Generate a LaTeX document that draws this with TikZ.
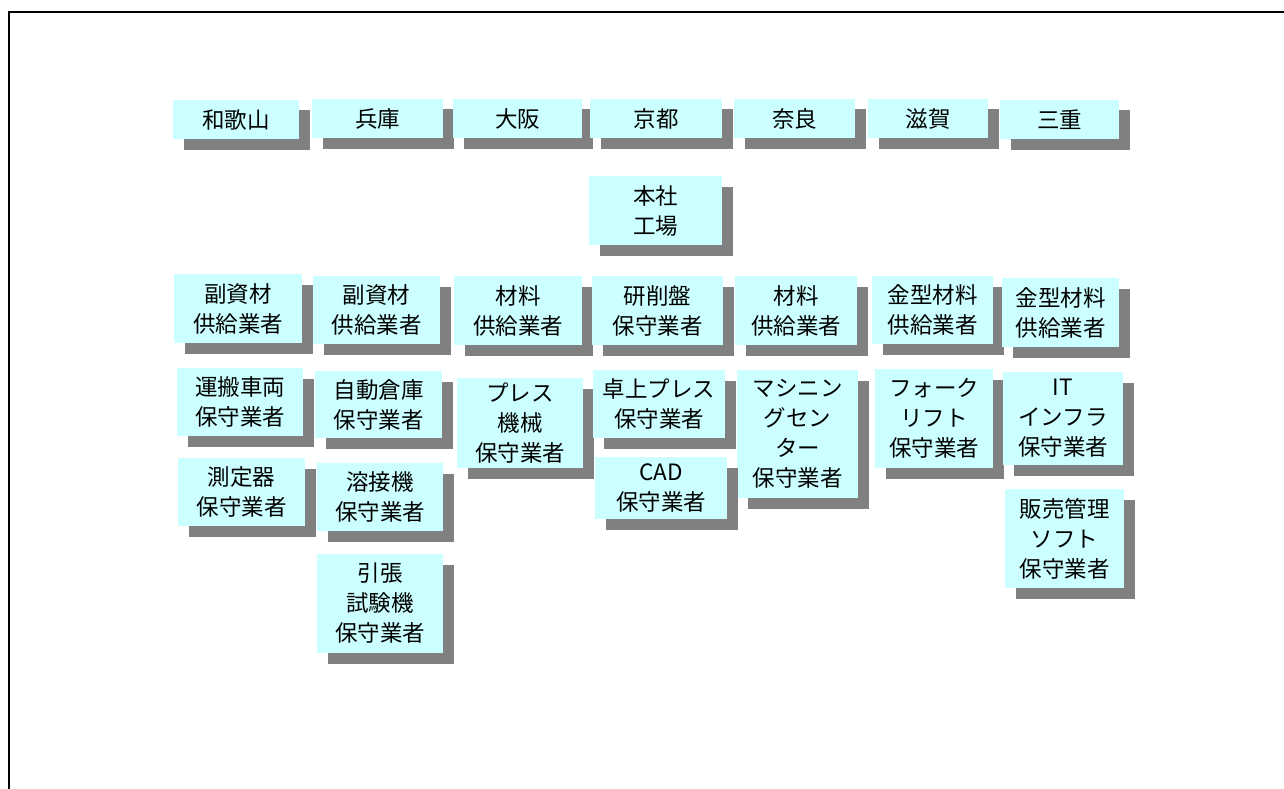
\documentclass[tikz,border=0pt]{standalone}
\usepackage{fontspec}
\setmainfont{Noto Sans CJK JP}
\usetikzlibrary{shadows}
\definecolor{boxcyan}{HTML}{CCFFFF}
\definecolor{shadowgray}{HTML}{808080}
\tikzset{
  box/.style={fill=boxcyan, draw=none, inner sep=0pt, align=center,
    font=\fontsize{22.5}{30}\selectfont,
    general shadow={fill=shadowgray, shadow xshift=10.5pt, shadow yshift=-10.5pt}},
  frameline/.style={line width=1.2pt, draw=black}
}
% \placebox{name}{left}{top}{right}{bottom}{text}
\newcommand{\placebox}[6]{%
  \node[box, minimum width={#4pt-#2pt}, minimum height={#5pt-#3pt}]
    (#1) at ({(#2+#4)/2},{(#3+#5)/2+1}) {#6};}
\begin{document}
\begin{tikzpicture}[x=1pt,y=-1pt]
\useasboundingbox (0,0) rectangle (1284,789);
\coordinate (fbl) at (9,789);
\coordinate (ftl) at (9,12);
\coordinate (ftr) at (1284,12);
\draw[frameline] (fbl) -- (ftl) -- (ftr);
% top row
\placebox{wakayama}{173}{99}{299}{138}{和歌山}
\placebox{hyogo}{312}{98}{443}{137}{兵庫}
\placebox{osaka}{453}{98}{582}{137}{大阪}
\placebox{kyoto}{590}{98}{722}{137}{京都}
\placebox{nara}{734}{98}{855}{137}{奈良}
\placebox{shiga}{868}{98}{988}{137}{滋賀}
\placebox{mie}{1000}{99}{1119}{138}{三重}
% head office
\placebox{honsha}{589}{175}{722}{244}{本社\\工場}
% row 3
\placebox{ra1}{174}{273}{302}{342}{副資材\\供給業者}
\placebox{ra2}{313}{275}{440}{343}{副資材\\供給業者}
\placebox{ra3}{454}{275}{582}{344}{材料\\供給業者}
\placebox{ra4}{592}{275}{723}{344}{研削盤\\保守業者}
\placebox{ra5}{735}{275}{857}{344}{材料\\供給業者}
\placebox{ra6}{872}{275}{993}{343}{金型材料\\供給業者}
\placebox{ra7}{1002}{277}{1119}{346}{金型材料\\供給業者}
% row 4
\placebox{rb1}{177}{367}{303}{435}{運搬車両\\保守業者}
\placebox{rb2}{315}{370}{442}{437}{自動倉庫\\保守業者}
\placebox{rb3}{457}{377}{583}{467}{プレス\\機械\\保守業者}
\placebox{rb4}{593}{369}{725}{437}{卓上プレス\\保守業者}
\placebox{rb5}{737}{369}{858}{497}{マシニン\\グセン\\ター\\保守業者}
\placebox{rb6}{875}{368}{993}{467}{フォーク\\リフト\\保守業者}
\placebox{rb7}{1003}{371}{1123}{464}{IT\\インフラ\\保守業者}
% row 5
\placebox{rc1}{178}{457}{305}{525}{測定器\\保守業者}
\placebox{rc2}{317}{462}{443}{530}{溶接機\\保守業者}
\placebox{rc4}{595}{456}{727}{518}{CAD\\保守業者}
\placebox{rc7}{1005}{488}{1124}{587}{販売管理\\ソフト\\保守業者}
% row 6
\placebox{rd2}{317}{553}{443}{652}{引張\\試験機\\保守業者}
\end{tikzpicture}
\end{document}
